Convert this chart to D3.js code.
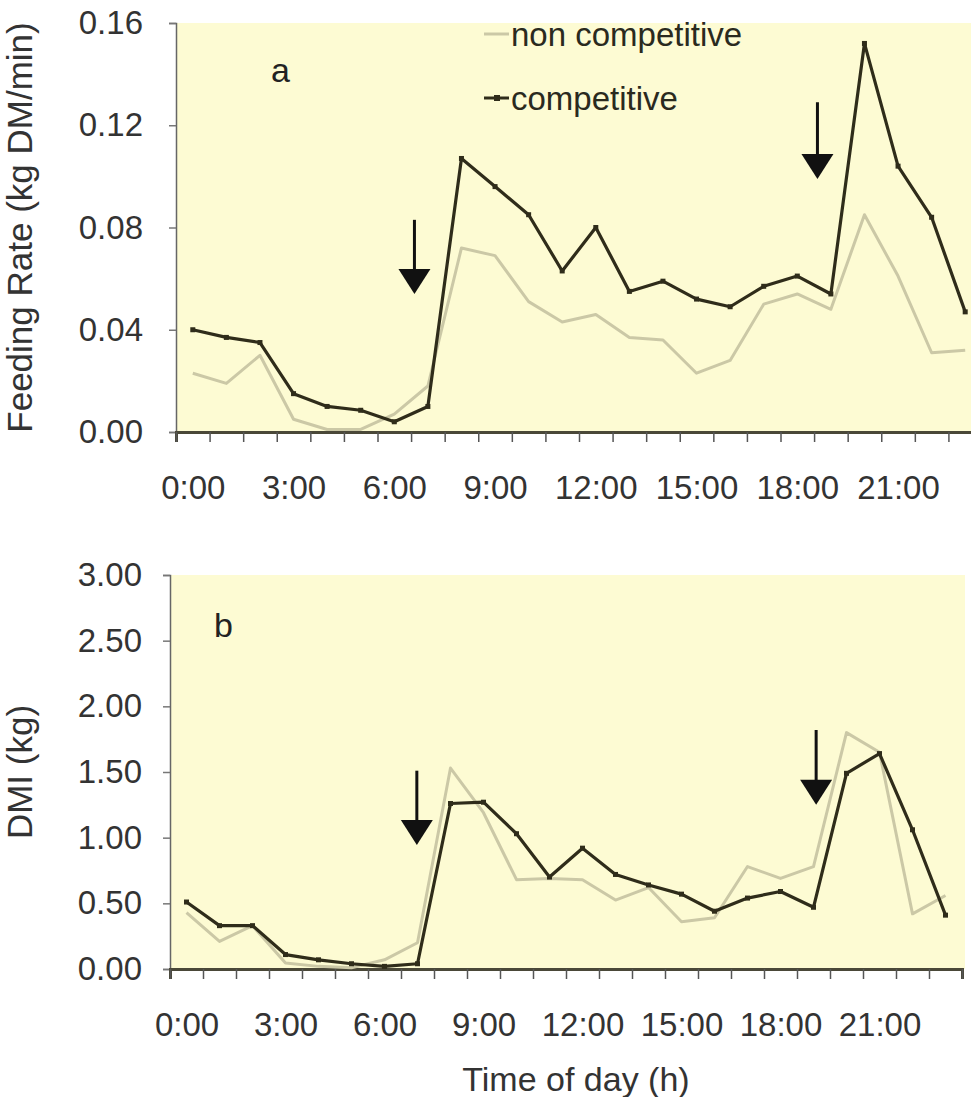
<!DOCTYPE html>
<html>
<head>
<meta charset="utf-8">
<script src="https://cdn.jsdelivr.net/npm/d3@7"></script>
<style>
  body { margin: 0; background: #fff; }
  svg { display: block; font-family: "Liberation Sans", Arial, sans-serif; }
</style>
</head>
<body>
<div id="chart"></div>
<script>
// hours of day, one value per hour (0:00 .. 23:00)
var hours = d3.range(0, 24);
var hourLabels = ["0:00", "3:00", "6:00", "9:00", "12:00", "15:00", "18:00", "21:00"];
var seriesNames = ["non competitive", "competitive"];

// panel a - feeding rate (kg DM/min)
var rateNonComp = [0.023, 0.019, 0.030, 0.005, 0.001, 0.001, 0.007, 0.018, 0.072, 0.069, 0.051, 0.043,
  0.046, 0.037, 0.036, 0.023, 0.028, 0.050, 0.054, 0.048, 0.085, 0.061, 0.031, 0.032];
var rateComp = [0.040, 0.037, 0.035, 0.015, 0.010, 0.0085, 0.004, 0.010, 0.107, 0.096, 0.085, 0.063,
  0.080, 0.055, 0.059, 0.052, 0.049, 0.057, 0.061, 0.054, 0.152, 0.104, 0.084, 0.047];
var rateTicks = [0, 0.04, 0.08, 0.12, 0.16];

// panel b - DMI (kg)
var dmiNonComp = [0.43, 0.21, 0.33, 0.045, 0.02, 0.01, 0.07, 0.20, 1.53, 1.19, 0.68, 0.69,
  0.68, 0.525, 0.62, 0.36, 0.39, 0.78, 0.69, 0.78, 1.80, 1.65, 0.42, 0.56];
var dmiComp = [0.51, 0.33, 0.33, 0.11, 0.07, 0.04, 0.02, 0.04, 1.26, 1.27, 1.03, 0.70,
  0.92, 0.72, 0.64, 0.57, 0.44, 0.54, 0.59, 0.47, 1.49, 1.64, 1.06, 0.41];
var dmiTicks = [0, 0.5, 1, 1.5, 2, 2.5, 3];

// feeding time arrows (hour position, top of shaft, tip)
var rateArrowHours = [7.1, 19.1];
var rateArrowTops = [0.083, 0.129];
var rateArrowTips = [0.054, 0.099];
var dmiArrowHours = [7.48, 19.58];
var dmiArrowTops = [1.51, 1.82];
var dmiArrowTips = [0.945, 1.25];

var W = 971, H = 1097;
var bg = '#fdfbd3', lightCol = '#cbc8a6', darkCol = '#2f2c1a', axisCol = '#4a4838', textCol = '#333';

var svg = d3.select('#chart').append('svg')
  .attr('width', W)
  .attr('height', H);

function drawPanel(p) {
  var x = d3.scaleLinear().domain([0, 24]).range([p.left, p.right]);
  var y = d3.scaleLinear().domain(p.yDomain).range([p.bottom, p.top]);
  var g = svg.append('g');

  // plot area
  g.append('rect')
    .attr('x', p.left).attr('y', p.top)
    .attr('width', p.bgRight - p.left).attr('height', p.bottom - p.top)
    .attr('fill', bg);

  // y axis
  var yAxis = g.append('g')
    .attr('transform', 'translate(' + p.left + ',0)')
    .call(d3.axisLeft(y).tickValues(p.yTicks).tickSize(7).tickPadding(p.yPad)
      .tickFormat(d3.format('.2f')));
  yAxis.select('.domain').attr('stroke', '#666').attr('stroke-width', 1.5);
  yAxis.selectAll('.tick line').attr('stroke', '#777').attr('stroke-width', 1.5);
  yAxis.selectAll('text').attr('font-size', 33).attr('fill', textCol)
    .attr('font-family', '"Liberation Sans", Arial, sans-serif');

  // x axis tick marks at hour boundaries
  var xAxis = g.append('g')
    .attr('transform', 'translate(0,' + p.bottom + ')')
    .call(d3.axisBottom(x).tickValues(d3.range(0, 25)).tickSize(10).tickFormat(''));
  xAxis.select('.domain').attr('stroke', axisCol).attr('stroke-width', 3);
  xAxis.selectAll('.tick line').attr('stroke', '#555').attr('stroke-width', 1.5);

  // x labels centred on every third hour
  var xLab = g.append('g')
    .attr('transform', 'translate(0,' + p.bottom + ')')
    .call(d3.axisBottom(x).tickValues(d3.range(0, 24, 3).map(function(h) { return h + 0.5; }))
      .tickSize(0).tickPadding(44)
      .tickFormat(function(d, i) { return hourLabels[i]; }));
  xLab.select('.domain').remove();
  xLab.selectAll('text').attr('font-size', 33).attr('fill', textCol)
    .attr('font-family', '"Liberation Sans", Arial, sans-serif');

  // lines
  var line = d3.line()
    .x(function(d, i) { return x(hours[i] + 0.5); })
    .y(function(d) { return y(d); });

  g.append('path').datum(p.light)
    .attr('d', line).attr('fill', 'none')
    .attr('stroke', lightCol).attr('stroke-width', 3).attr('stroke-linejoin', 'round');

  g.append('path').datum(p.dark)
    .attr('d', line).attr('fill', 'none')
    .attr('stroke', darkCol).attr('stroke-width', 3.2).attr('stroke-linejoin', 'round');

  g.selectAll('.mk').data(p.dark).enter().append('rect')
    .attr('x', function(d, i) { return x(hours[i] + 0.5) - 2.5; })
    .attr('y', function(d) { return y(d) - 2.5; })
    .attr('width', 5).attr('height', 5)
    .attr('fill', darkCol);

  // arrows
  p.arrowHours.forEach(function(h, i) {
    var ax = x(h), y0 = y(p.arrowTops[i]), y1 = y(p.arrowTips[i]);
    g.append('line')
      .attr('x1', ax).attr('x2', ax)
      .attr('y1', y0).attr('y2', y1 - 20)
      .attr('stroke', '#111').attr('stroke-width', 3);
    g.append('path')
      .attr('d', 'M' + (ax - 16) + ',' + (y1 - 25) + 'L' + (ax + 16) + ',' + (y1 - 25) + 'L' + ax + ',' + y1 + 'Z')
      .attr('fill', '#111');
  });

  // panel letter
  g.append('text')
    .attr('x', p.letterX).attr('y', p.letterY)
    .attr('font-size', 34).attr('fill', '#222')
    .text(p.letter);

  // y axis title
  g.append('text')
    .attr('transform', 'translate(' + p.titleX + ',' + ((p.top + p.bottom) / 2) + ') rotate(-90)')
    .attr('text-anchor', 'middle')
    .attr('font-size', 35).attr('fill', textCol)
    .text(p.yTitle);

  return { x: x, y: y, g: g };
}

var panelA = drawPanel({
  left: 176, right: 982, bgRight: 971, top: 23, bottom: 432,
  yDomain: [0, 0.16], yTicks: rateTicks, yPad: 26,
  light: rateNonComp, dark: rateComp,
  arrowHours: rateArrowHours, arrowTops: rateArrowTops, arrowTips: rateArrowTips,
  letter: 'a', letterX: 271, letterY: 82,
  yTitle: 'Feeding Rate (kg DM/min)', titleX: 32
});

drawPanel({
  left: 170, right: 962, bgRight: 965, top: 575, bottom: 969,
  yDomain: [0, 3], yTicks: dmiTicks, yPad: 21,
  light: dmiNonComp, dark: dmiComp,
  arrowHours: dmiArrowHours, arrowTops: dmiArrowTops, arrowTips: dmiArrowTips,
  letter: 'b', letterX: 214, letterY: 637,
  yTitle: 'DMI (kg)', titleX: 32
});

// legend (panel a)
var legend = panelA.g.append('g');
var legendRows = [46, 110];
seriesNames.forEach(function(name, i) {
  var ly = legendRows[i] - 12;
  legend.append('line')
    .attr('x1', 484).attr('x2', 509)
    .attr('y1', ly).attr('y2', ly)
    .attr('stroke', i === 0 ? lightCol : darkCol).attr('stroke-width', 3);
  if (i === 1) {
    legend.append('rect').attr('x', 494).attr('y', ly - 3).attr('width', 6).attr('height', 6).attr('fill', darkCol);
  }
  legend.append('text')
    .attr('x', 511).attr('y', legendRows[i])
    .attr('font-size', 33).attr('fill', '#2a2a1e')
    .text(name);
});

// x axis title
svg.append('text')
  .attr('x', 576).attr('y', 1091)
  .attr('text-anchor', 'middle')
  .attr('font-size', 34).attr('fill', textCol)
  .text('Time of day (h)');
</script>
</body>
</html>
